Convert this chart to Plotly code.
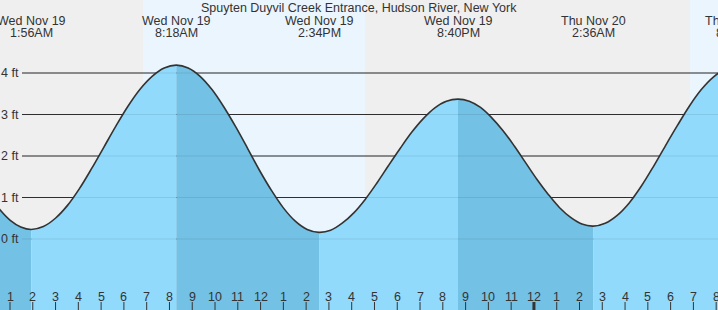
import plotly.graph_objects as go

# ---------------- data (hours since Wed Nov 19 00:00, heights in ft) ----------------
tide_t = [-0.372, 0.089, 0.550, 1.011, 1.472, 1.933,
          2.464, 2.994, 3.525, 4.055, 4.586, 5.117, 5.647, 6.178, 6.708, 7.239, 7.769, 8.3,
          8.822, 9.345, 9.867, 10.389, 10.911, 11.434, 11.956, 12.478, 13.0, 13.523, 14.045, 14.567,
          15.075, 15.583, 16.092, 16.6, 17.108, 17.617, 18.125, 18.633, 19.142, 19.65, 20.158, 20.667,
          21.161, 21.656, 22.15, 22.644, 23.139, 23.633, 24.128, 24.622, 25.117, 25.611, 26.105, 26.6,
          27.128, 27.655, 28.183, 28.71, 29.238, 29.765, 30.293, 30.82, 31.348, 31.875, 32.403, 32.93]
tide_h = [1.44, 1.05, 0.71, 0.45, 0.29, 0.23,
          0.30, 0.50, 0.81, 1.22, 1.70, 2.21, 2.72, 3.20, 3.61, 3.92, 4.12, 4.19,
          4.12, 3.92, 3.60, 3.18, 2.70, 2.18, 1.65, 1.17, 0.75, 0.43, 0.23, 0.16,
          0.21, 0.38, 0.63, 0.96, 1.35, 1.77, 2.18, 2.57, 2.90, 3.16, 3.32, 3.37,
          3.32, 3.17, 2.92, 2.61, 2.24, 1.84, 1.44, 1.08, 0.76, 0.52, 0.36, 0.31,
          0.38, 0.57, 0.87, 1.27, 1.74, 2.24, 2.73, 3.20, 3.60, 3.90, 4.09, 4.16]

event_t = [1.933, 8.3, 14.567, 20.667, 26.6, 32.93]
event_day = ["Wed Nov 19", "Wed Nov 19", "Wed Nov 19", "Wed Nov 19", "Thu Nov 20", "Thu Nov 20"]
event_time = ["1:56AM", "8:18AM", "2:34PM", "8:40PM", "2:36AM", "8:56AM"]

day_start = [6.84, 30.85]
day_end = [16.58, 34.0]

ft_levels = [0, 1, 2, 3, 4]
ft_labels = ["0 ft", "1 ft", "2 ft", "3 ft", "4 ft"]

hour_ticks = list(range(1, 33))
hour_labels = [str(h % 12 if h % 12 else 12) for h in hour_ticks]

title = "Spuyten Duyvil Creek Entrance, Hudson River, New York"

# ---------------- styling ----------------
W, H = 718, 310
X_RANGE = [0.561, 32.08]
Y_RANGE = [-1.711, 5.759]
NIGHT = "#efefef"
DAY = "#ebf5fe"
WATER_RISE = "#91dafc"
WATER_FALL = "#73c1e5"
TXT = "#333333"
FONT = "Liberation Sans, Arial, sans-serif"


def xfrac(t):
    return (t - X_RANGE[0]) / (X_RANGE[1] - X_RANGE[0])


fig = go.Figure()

# water segments (falling tide darker)
bounds = [tide_t[0]] + event_t[:5] + [tide_t[-1]]
for i in range(len(bounds) - 1):
    b0, b1 = bounds[i], bounds[i + 1]
    seg_t = [t for t in tide_t if b0 <= t <= b1]
    seg_h = [h for t, h in zip(tide_t, tide_h) if b0 <= t <= b1]
    color = WATER_FALL if i % 2 == 0 else WATER_RISE
    fig.add_trace(go.Scatter(x=[b0, b1], y=[Y_RANGE[0], Y_RANGE[0]], mode="lines",
                             line=dict(width=0), hoverinfo="skip", showlegend=False))
    fig.add_trace(go.Scatter(x=seg_t, y=seg_h, mode="lines", fill="tonexty",
                             fillcolor=color, line=dict(width=0, shape="spline", smoothing=1),
                             hoverinfo="skip", showlegend=False))

# tide curve
fig.add_trace(go.Scatter(x=tide_t, y=tide_h, mode="lines",
                         line=dict(color="#333333", width=1.6, shape="spline", smoothing=1),
                         hoverinfo="skip", showlegend=False))

shapes = []
# backgrounds
shapes.append(dict(type="rect", xref="paper", yref="paper", x0=0, x1=1, y0=0, y1=1,
                   fillcolor=NIGHT, line=dict(width=0), layer="below"))
for a, b in zip(day_start, day_end):
    shapes.append(dict(type="rect", xref="x", yref="paper", x0=a, x1=b, y0=0, y1=1,
                       fillcolor=DAY, line=dict(width=0), layer="below"))
# grid lines (dark under water, faint over water)
gx0 = 22 / W
for lv in ft_levels:
    shapes.append(dict(type="line", xref="paper", yref="y", x0=gx0, x1=1, y0=lv, y1=lv,
                       line=dict(color="#333333", width=1.2), layer="below"))
    shapes.append(dict(type="line", xref="paper", yref="y", x0=gx0, x1=1, y0=lv, y1=lv,
                       line=dict(color="rgba(0,0,0,0.09)", width=1.2), layer="above"))
# hour ticks
for h in hour_ticks:
    shapes.append(dict(type="line", xref="x", yref="paper", x0=h, x1=h, y0=0, y1=8 / H,
                       line=dict(color="#333333", width=3 if h == 24 else 1), layer="above"))

ann = []
ann.append(dict(text=title, xref="paper", yref="paper", x=0.5, y=1 - 8 / H,
                xanchor="center", yanchor="middle", showarrow=False,
                font=dict(size=12.5, color=TXT, family=FONT)))
for t, d, tm in zip(event_t, event_day, event_time):
    ann.append(dict(text=d, xref="paper", yref="paper", x=xfrac(t), y=1 - 20.5 / H,
                    xanchor="center", yanchor="middle", showarrow=False,
                    font=dict(size=12.5, color=TXT, family=FONT)))
    ann.append(dict(text=tm, xref="paper", yref="paper", x=xfrac(t), y=1 - 33 / H,
                    xanchor="center", yanchor="middle", showarrow=False,
                    font=dict(size=12.5, color=TXT, family=FONT)))
for lv, lab in zip(ft_levels, ft_labels):
    ann.append(dict(text=lab, xref="paper", yref="y", x=20.5 / W, y=lv,
                    xanchor="right", yanchor="middle", showarrow=False,
                    font=dict(size=12.5, color=TXT, family=FONT)))
for h, lab in zip(hour_ticks, hour_labels):
    ann.append(dict(text=lab, xref="x", yref="paper", x=h, y=(H - 296.5) / H,
                    xanchor="center", yanchor="middle", showarrow=False,
                    font=dict(size=12.5, color=TXT, family=FONT)))

fig.update_layout(
    width=W, height=H,
    margin=dict(l=0, r=0, t=0, b=0),
    paper_bgcolor=NIGHT, plot_bgcolor="rgba(0,0,0,0)",
    xaxis=dict(range=X_RANGE, visible=False, fixedrange=True),
    yaxis=dict(range=Y_RANGE, visible=False, fixedrange=True),
    shapes=shapes, annotations=ann, showlegend=False,
)

fig.write_html("out.html", config={"displayModeBar": False})
